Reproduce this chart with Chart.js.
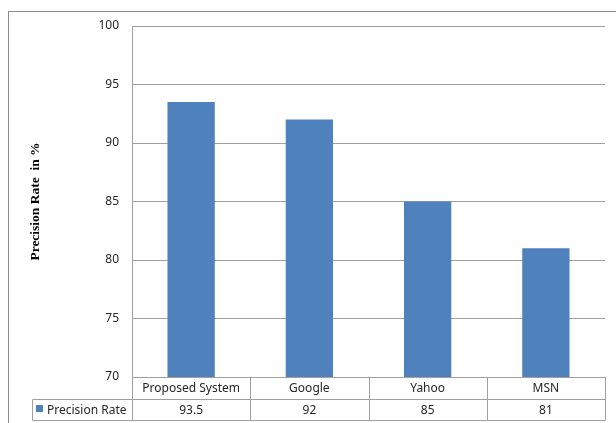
<!DOCTYPE html>
<html>
<head>
<meta charset="utf-8">
<script src="https://cdn.jsdelivr.net/npm/chart.js@4/dist/chart.umd.min.js"></script>
<style>
html,body{margin:0;padding:0;background:#fff;}
canvas{display:block;}
</style>
</head>
<body>
<canvas id="c" width="616" height="423"></canvas>
<script>
const categories = ["Proposed System", "Google", "Yahoo", "MSN"];
const seriesName = "Precision Rate";
const precisionValues = [93.5, 92, 85, 81];
const valueLabels = ["93.5", "92", "85", "81"];
const yTitle = "Precision Rate  in %";

const BAR = '#4f81bd';
const GRID = '#a0a0a0';
const TEXT = '#262626';
const FONT = '12px "Noto Sans", "Open Sans", sans-serif';

const tablePlugin = {
  id: 'dataTable',
  beforeDraw(chart) {
    const ctx = chart.ctx;
    ctx.save();
    ctx.fillStyle = '#fff';
    ctx.fillRect(0, 0, chart.width, chart.height);
    ctx.strokeStyle = '#8c8c8c';
    ctx.lineWidth = 1;
    ctx.strokeRect(8.5, 11.5, 700, 500);
    ctx.restore();
  },
  afterDraw(chart) {
    const ctx = chart.ctx;
    const xs = chart.scales.x;
    const area = chart.chartArea;
    const top = area.bottom;
    const mid = top + 22;
    const bot = top + 43;
    const n = categories.length;
    const bounds = [area.left];
    for (let i = 1; i < n; i++) {
      bounds.push(Math.round((xs.getPixelForValue(i - 1) + xs.getPixelForValue(i)) / 2));
    }
    bounds.push(area.right);
    ctx.save();
    ctx.strokeStyle = GRID;
    ctx.lineWidth = 1;
    ctx.beginPath();
    bounds.forEach(b => {
      const x = Math.round(b) + 0.5;
      ctx.moveTo(x, top);
      ctx.lineTo(x, bot);
    });
    const legLeft = 32.5;
    ctx.moveTo(legLeft, mid + 0.5); ctx.lineTo(Math.round(area.right) + 0.5, mid + 0.5);
    ctx.moveTo(legLeft, bot + 0.5); ctx.lineTo(Math.round(area.right) + 0.5, bot + 0.5);
    ctx.moveTo(legLeft, mid + 0.5); ctx.lineTo(legLeft, bot + 0.5);
    ctx.stroke();

    ctx.fillStyle = TEXT;
    ctx.font = FONT;
    ctx.textAlign = 'center';
    ctx.textBaseline = 'middle';
    for (let i = 0; i < n; i++) {
      const cx = xs.getPixelForValue(i);
      ctx.fillText(categories[i], cx, (top + mid) / 2 + 1);
      ctx.fillText(valueLabels[i], cx, (mid + bot) / 2 + 1);
    }
    ctx.fillStyle = BAR;
    ctx.fillRect(36, mid + 6, 7, 7);
    ctx.fillStyle = TEXT;
    ctx.textAlign = 'left';
    ctx.fillText(seriesName, 47, (mid + bot) / 2 + 1);
    ctx.restore();
  }
};

new Chart(document.getElementById('c'), {
  type: 'bar',
  data: {
    labels: categories,
    datasets: [{
      label: seriesName,
      data: precisionValues,
      backgroundColor: BAR,
      borderWidth: 0,
      categoryPercentage: 1.0,
      barPercentage: 0.4
    }]
  },
  options: {
    responsive: false,
    devicePixelRatio: 1,
    animation: false,
    layout: { padding: { top: 26, right: 11, bottom: 3, left: 0 } },
    plugins: { legend: { display: false }, tooltip: { enabled: false } },
    scales: {
      x: {
        ticks: { display: false },
        grid: { display: false, drawTicks: false },
        border: { display: true, color: GRID },
        afterFit(s) { s.height = 43; }
      },
      y: {
        min: 70, max: 100,
        ticks: { stepSize: 5, padding: 13, color: TEXT, font: { family: '"Noto Sans", "Open Sans", sans-serif', size: 12 } },
        grid: { color: GRID, drawTicks: false },
        border: { display: true, color: GRID },
        title: {
          display: true, text: yTitle, color: '#000',
          font: { family: '"Liberation Serif", serif', size: 13.5, weight: 'bold' },
          padding: { top: 27, bottom: 0 }
        },
        afterFit(s) { s.width = 132; }
      }
    }
  },
  plugins: [tablePlugin]
});
</script>
</body>
</html>
